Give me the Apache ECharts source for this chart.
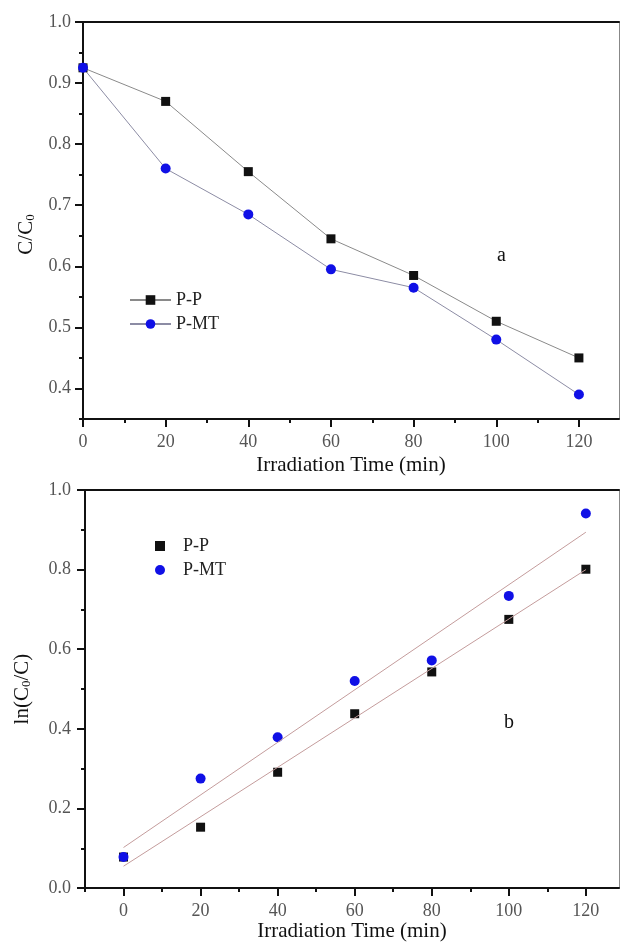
<!DOCTYPE html>
<html>
<head>
<meta charset="utf-8">
<script src="https://cdn.jsdelivr.net/npm/echarts@6/dist/echarts.min.js"></script>
<style>
  html, body { margin: 0; padding: 0; background: #fff; }
  #chart { width: 620px; height: 943px; }
</style>
</head>
<body>
<div id="chart"></div>
<script>
// irradiation times (min)
const times = [0, 20, 40, 60, 80, 100, 120]

// panel a: C/C0
const ppRatio = [0.925, 0.87, 0.755, 0.645, 0.585, 0.51, 0.45]
const mtRatio = [0.925, 0.76, 0.685, 0.595, 0.565, 0.48, 0.39]

// panel b: ln(C0/C)
const ppLn = [0.078, 0.153, 0.291, 0.438, 0.543, 0.675, 0.801]
const mtLn = [0.078, 0.275, 0.379, 0.52, 0.572, 0.734, 0.941]

// linear fit ends
const ppFit = [[0, 0.055], [120, 0.8]]
const mtFit = [[0, 0.102], [120, 0.894]]

// ticks
const xMajor = [0, 20, 40, 60, 80, 100, 120]
const xMinor = [10, 30, 50, 70, 90, 110]
const xMinorB = [-10, 10, 30, 50, 70, 90, 110]
const yMajorA = [0.4, 0.5, 0.6, 0.7, 0.8, 0.9, 1.0]
const yMinorA = [0.35, 0.45, 0.55, 0.65, 0.75, 0.85, 0.95]
const yMajorB = [0, 0.2, 0.4, 0.6, 0.8, 1.0]
const yMinorB = [0.1, 0.3, 0.5, 0.7, 0.9]

const serif = "Liberation Serif, Times New Roman, serif"
const black = "#111"
const blue = "#1010e6"

const labelStyle = { color: "#555", fontFamily: serif, fontSize: 18 }
const nameStyle = { color: black, fontFamily: serif, fontSize: 21 }
const legendText = { color: "#222", fontFamily: serif, fontSize: 18 }
const subRich = {
  sub: { fontFamily: serif, fontSize: 13, color: black, verticalAlign: "bottom", lineHeight: 14 },
}

function pairs(ys) {
  return times.map((t, i) => [t, ys[i]])
}

function majorX(grid, min, max, name, gap) {
  return {
    type: "value", gridIndex: grid, position: "bottom", min, max,
    name, nameLocation: "middle", nameGap: gap, nameTextStyle: nameStyle,
    axisLine: { onZero: false, lineStyle: { color: black, width: 2 } },
    axisTick: { customValues: xMajor, length: 8, lineStyle: { color: black, width: 2 } },
    axisLabel: { customValues: xMajor, margin: 14, ...labelStyle },
    splitLine: { show: false },
  }
}

function minorX(grid, min, max, values) {
  return {
    type: "value", gridIndex: grid, position: "bottom", min, max,
    axisLine: { show: false, onZero: false },
    axisTick: { customValues: values, length: 4, lineStyle: { color: black, width: 2 } },
    axisLabel: { show: false },
    splitLine: { show: false },
  }
}

function topX(grid, min, max) {
  return {
    type: "value", gridIndex: grid, position: "top", min, max,
    axisLine: { onZero: false, lineStyle: { color: black, width: 2 } },
    axisTick: { show: false }, axisLabel: { show: false }, splitLine: { show: false },
  }
}

function majorY(grid, min, max, values, name, gap, margin, pad) {
  return {
    type: "value", gridIndex: grid, position: "left", min, max,
    name, nameLocation: "middle", nameGap: gap,
    nameTextStyle: { ...nameStyle, rich: subRich, padding: pad },
    axisLine: { onZero: false, lineStyle: { color: black, width: 2 } },
    axisTick: { customValues: values, length: 8, lineStyle: { color: black, width: 2 } },
    axisLabel: { customValues: values, margin, ...labelStyle, formatter: (v) => v.toFixed(1) },
    splitLine: { show: false },
  }
}

function minorY(grid, min, max, values) {
  return {
    type: "value", gridIndex: grid, position: "left", min, max,
    axisLine: { show: false, onZero: false },
    axisTick: { customValues: values, length: 4, lineStyle: { color: black, width: 2 } },
    axisLabel: { show: false },
    splitLine: { show: false },
  }
}

function rightY(grid, min, max) {
  return {
    type: "value", gridIndex: grid, position: "right", min, max,
    axisLine: { onZero: false, lineStyle: { color: "#888", width: 1 } },
    axisTick: { show: false }, axisLabel: { show: false }, splitLine: { show: false },
  }
}

const chart = echarts.init(document.getElementById("chart"), null, { renderer: "canvas" })

chart.setOption({
  animation: false,
  textStyle: { fontFamily: serif },
  grid: [
    { left: 83, top: 22, width: 536, height: 397 },
    { left: 85, top: 490, width: 534, height: 400 },
  ],
  legend: [
    {
      data: [{ name: "P-P" }, { name: "P-MT" }],
      orient: "vertical", left: 129, top: 291, padding: 0,
      itemWidth: 41, itemHeight: 12, itemGap: 6,
      textStyle: legendText,
    },
    {
      data: [{ name: "P-P ", icon: "rect" }, { name: "P-MT ", icon: "circle" }],
      orient: "vertical", left: 155, top: 537, padding: 0,
      itemWidth: 10, itemHeight: 10, itemGap: 6,
      textStyle: { ...legendText, padding: [0, 0, 0, 13] },
    },
  ],
  xAxis: [
    majorX(0, 0, 129.7, "Irradiation Time (min)", 36),
    minorX(0, 0, 129.7, xMinor),
    topX(0, 0, 129.7),
    majorX(1, -10, 128.6, "Irradiation Time (min)", 25),
    minorX(1, -10, 128.6, xMinorB),
    topX(1, -10, 128.6),
  ],
  yAxis: [
    majorY(0, 0.35, 1.0, yMajorA, "C/C{sub|0}", 46, 12, [0, 28, 0, 0]),
    minorY(0, 0.35, 1.0, yMinorA),
    rightY(0, 0.35, 1.0),
    majorY(1, 0, 1.0, yMajorB, "ln(C{sub|0}/C)", 52, 14, 0),
    minorY(1, 0, 1.0, yMinorB),
    rightY(1, 0, 1.0),
  ],
  graphic: [
    { type: "text", left: 497, top: 246, style: { text: "a", font: `20px ${serif}`, fill: black } },
    { type: "text", left: 504, top: 713, style: { text: "b", font: `20px ${serif}`, fill: black } },
  ],
  series: [
    {
      name: "P-P", type: "line", xAxisIndex: 0, yAxisIndex: 0,
      data: pairs(ppRatio), symbol: "rect", symbolSize: 9,
      itemStyle: { color: black }, lineStyle: { color: "#8a8a8a", width: 1 },
    },
    {
      name: "P-MT", type: "line", xAxisIndex: 0, yAxisIndex: 0,
      data: pairs(mtRatio), symbol: "circle", symbolSize: 10,
      itemStyle: { color: blue }, lineStyle: { color: "#8c8ca4", width: 1 },
    },
    {
      name: "fit P-P", type: "line", xAxisIndex: 3, yAxisIndex: 3,
      data: ppFit, showSymbol: false, symbol: "none",
      lineStyle: { color: "#c49c9c", width: 1 },
    },
    {
      name: "fit P-MT", type: "line", xAxisIndex: 3, yAxisIndex: 3,
      data: mtFit, showSymbol: false, symbol: "none",
      lineStyle: { color: "#c49c9c", width: 1 },
    },
    {
      name: "P-P ", type: "scatter", xAxisIndex: 3, yAxisIndex: 3,
      data: pairs(ppLn), symbol: "rect", symbolSize: 9,
      itemStyle: { color: black, opacity: 1 },
    },
    {
      name: "P-MT ", type: "scatter", xAxisIndex: 3, yAxisIndex: 3,
      data: pairs(mtLn), symbol: "circle", symbolSize: 10,
      itemStyle: { color: blue, opacity: 1 },
    },
  ],
})
</script>
</body>
</html>
